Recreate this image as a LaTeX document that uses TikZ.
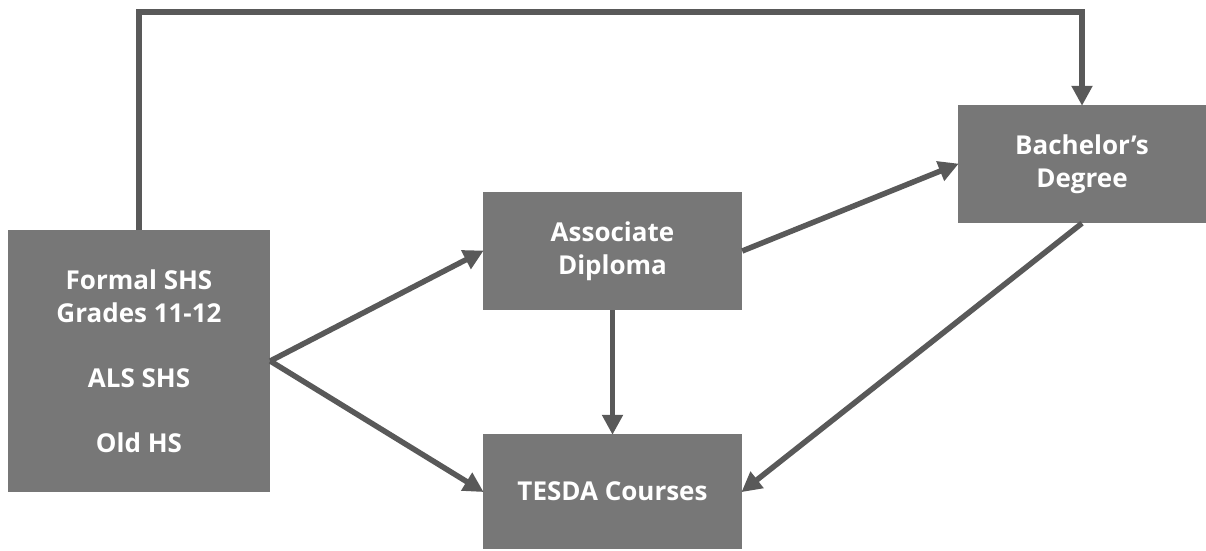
\documentclass[tikz,border=0pt]{standalone}
\usepackage{fontspec}
\setmainfont{Open Sans}
\usetikzlibrary{arrows.meta,positioning}
\definecolor{boxgray}{HTML}{777777}
\definecolor{linegray}{HTML}{595959}
\begin{document}
\begin{tikzpicture}[y=-1pt, x=1pt,
		stage/.style={fill=boxgray, text=white, font=\bfseries\fontsize{26}{32.5}\selectfont, align=center, inner sep=0pt},
		conn/.style={draw=linegray, line width=5.5pt, -{Triangle[length=20pt,width=20pt]}, shorten >=-1pt}]
				\useasboundingbox (0,0) rectangle (1206,550);
				
				\node[stage, minimum width=262pt, minimum height=262pt] (shs) at (139,361)
					{Formal SHS\\Grades 11-12\\[32.5pt]ALS SHS\\[32.5pt]Old HS};
				\node[stage, minimum width=259pt, minimum height=118pt] (assoc) at (612.5,251) {Associate\\Diploma};
				\node[stage, minimum width=259pt, minimum height=115pt] (tesda) at (612.5,491.5) {TESDA Courses};
				\node[stage, minimum width=248pt, minimum height=118pt] (bach) at (1082,164) {Bachelor’s\\Degree};
				
				\coordinate (top) at (0,12);
				
				\draw[conn] (shs.north) |- (top -| bach.north) -- (bach.north);
				\draw[conn] (shs.east) -- (assoc.west);
				\draw[conn] (shs.east) -- (tesda.west);
				\draw[conn] (assoc.east) -- (bach.west);
				\draw[conn] (assoc.south) -- (tesda.north);
				\draw[conn] (bach.south) -- (tesda.east);
				
		\end{tikzpicture}
\end{document}
